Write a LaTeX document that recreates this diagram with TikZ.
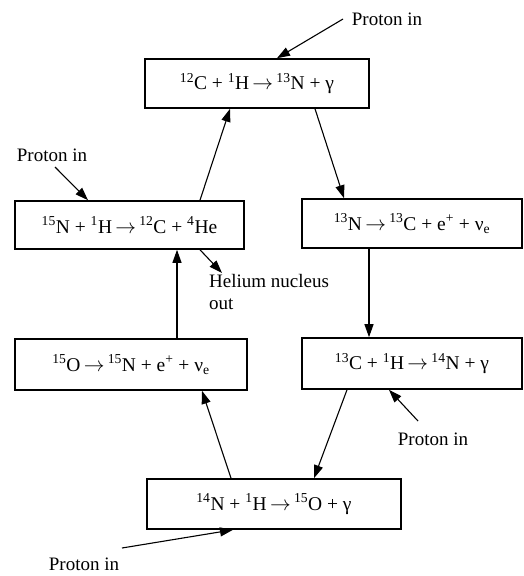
\documentclass[tikz,border=0pt]{standalone}
\usepackage{fontspec}
\setmainfont{Liberation Serif}
\usetikzlibrary{arrows.meta}
\newcommand{\iso}[2]{\textsuperscript{#1}#2}
\newcommand{\rarr}{\,$\rightarrow$\,}
\begin{document}
\begin{tikzpicture}[x=1pt,y=-1pt,
  rbox/.style={draw,line width=1.6pt,inner sep=0pt,font=\fontsize{19.5}{22}\selectfont},
  lbl/.style={font=\fontsize{19}{22}\selectfont,inner sep=0pt},
  flow/.style={line width=1.1pt,-{Triangle[length=13pt,width=9pt]}}]
\useasboundingbox (0,0) rectangle (524,576);
\fill[white] (0,0) rectangle (524,576);
% boxes
\node[rbox,minimum width=224pt,minimum height=49pt] (A) at (257,83.5) {\iso{12}{C} + \iso{1}{H}\rarr\iso{13}{N} + γ};
\node[rbox,minimum width=229pt,minimum height=48pt] (B) at (129.5,225) {\iso{15}{N} + \iso{1}{H}\rarr\iso{12}{C} + \iso{4}{He}};
\node[rbox,minimum width=220pt,minimum height=49pt] (C) at (412,223.5) {\iso{13}{N}\rarr\iso{13}{C} + e\textsuperscript{+} + ν\textsubscript{e}};
\node[rbox,minimum width=232pt,minimum height=51pt] (D) at (131,364.5) {\iso{15}{O}\rarr\iso{15}{N} + e\textsuperscript{+} + ν\textsubscript{e}};
\node[rbox,minimum width=220pt,minimum height=51pt] (E) at (412,363.5) {\iso{13}{C} + \iso{1}{H}\rarr\iso{14}{N} + γ};
\node[rbox,minimum width=254pt,minimum height=50pt] (F) at (274,504) {\iso{14}{N} + \iso{1}{H}\rarr\iso{15}{O} + γ};
% labels
\node[lbl] (p1) at (387,19) {Proton in};
\node[lbl] (p2) at (52,155) {Proton in};
\node[lbl] (p3) at (433,439) {Proton in};
\node[lbl] (p4) at (84,564) {Proton in};
\node[lbl,align=left,anchor=north west] (he) at (209,274) {Helium nucleus\\out};
% free ends
\coordinate (s1) at (343,19);
\coordinate (s2) at (55,167);
\coordinate (s3) at (418,421);
\coordinate (s4) at (122,548);
\coordinate (h1) at (222,273);
% cycle connectors
\draw[flow] (B.north -| 200,0) -- (A.south -| 230,0);
\draw[flow] (A.south -| 315,0) -- (C.north -| 344,0);
\draw[flow] (C.south -| 369,0) -- (E.north -| 369,0);
\draw[flow] (E.south -| 347,0) -- (F.north -| 314,0);
\draw[flow] (F.north -| 231,0) -- (D.south -| 202,0);
\draw[flow] (D.north -| 177,0) -- (B.south -| 177,0);
% side arrows
\draw[flow] (s1) -- (A.north -| 277,0);
\draw[flow] (s2) -- (B.north -| 88,0);
\draw[flow] (s3) -- (E.south -| 389,0);
\draw[flow] (s4) -- (F.south -| 233,0);
\draw[flow] (B.south -| 200,0) -- (h1);
\end{tikzpicture}
\end{document}
